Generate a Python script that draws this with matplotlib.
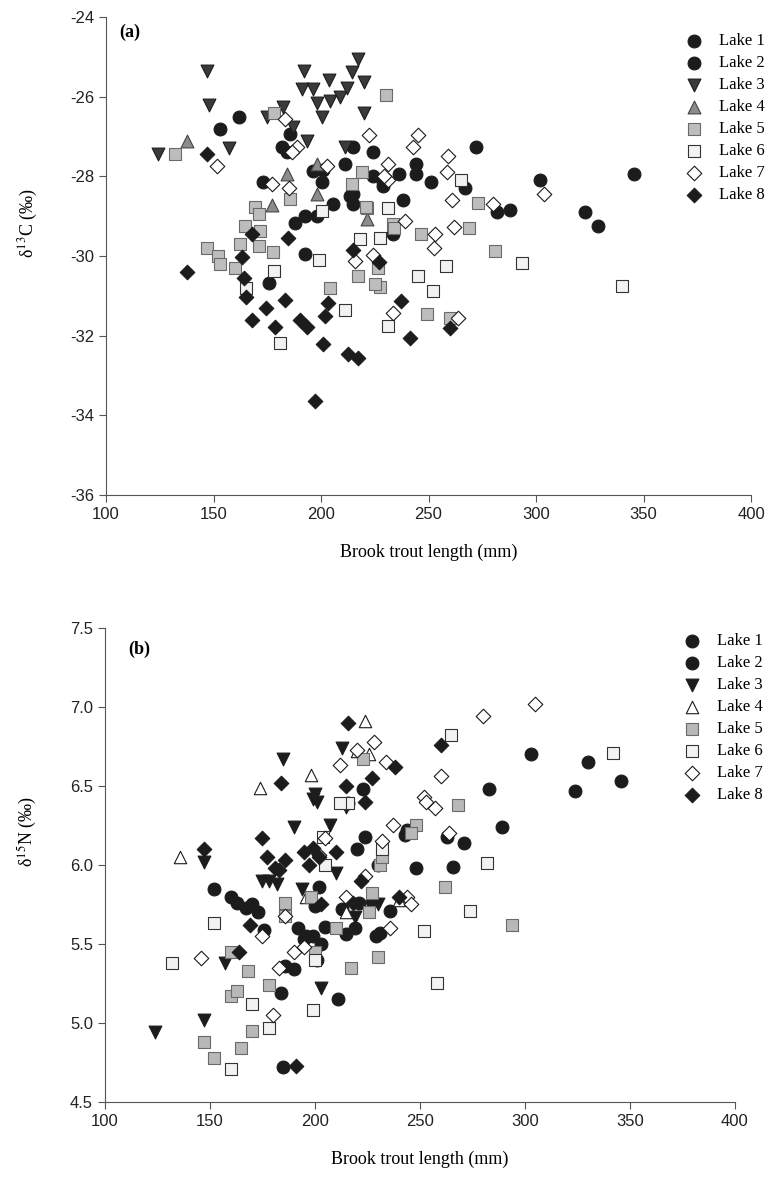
import numpy as np
import matplotlib.pyplot as plt

plt.rcParams['axes.unicode_minus'] = False
plt.rcParams['mathtext.fontset'] = 'stix'

# ---- panel (a): d13C vs length ----
a_len1 = [224, 224, 229, 233.7, 244, 244, 236.5, 251, 267, 272, 302, 345.5, 238, 323, 329, 288, 282, 229, 215, 211]
a_c1 = [-27.4, -27.98, -28.23, -29.44, -27.68, -27.93, -27.93, -28.15, -28.28, -27.27, -28.1, -27.93, -28.6, -28.9, -29.24, -28.84, -28.9, -28.15, -27.27, -27.7]
a_len2 = [162, 153, 173, 182, 185.7, 184, 196.4, 200.6, 201, 215, 215, 205.7, 192.7, 188, 192.7, 176, 213.6, 198]
a_c2 = [-26.5, -26.8, -28.15, -27.27, -26.93, -27.4, -27.87, -28.15, -27.85, -28.44, -28.7, -28.7, -28.99, -29.16, -29.95, -30.68, -28.5, -29.0]
a_len3 = [124, 147, 148, 157, 175, 182.4, 187, 193.6, 192, 191, 196.5, 203.5, 198, 200.6, 204, 209, 212, 214.5, 217, 220, 220, 211]
a_c3 = [-27.45, -25.35, -26.2, -27.3, -26.5, -26.27, -26.75, -27.1, -25.35, -25.8, -25.8, -25.57, -26.16, -26.5, -26.1, -26.0, -25.77, -25.38, -25.05, -25.63, -26.4, -27.27]
a_len4 = [137.7, 184.3, 198, 177, 198, 221.5]
a_c4 = [-27.1, -27.93, -28.43, -28.73, -27.68, -29.06]
a_len5 = [132, 230, 178, 185.7, 169.4, 171, 164.7, 171.7, 214.6, 219, 221.5, 233.7, 147, 152, 153, 160, 162.4, 171,
          177.7, 204, 217, 227.6, 225, 273, 221, 234, 246.7, 268.6, 280.7, 226.7, 249.5, 260]
a_c5 = [-27.43, -25.96, -26.42, -28.56, -28.76, -28.94, -29.24, -29.37, -28.18, -27.9, -28.79, -29.2, -29.8, -30.0, -30.2, -30.3, -29.7, -29.75,
        -29.9, -30.8, -30.5, -30.78, -30.7, -28.66, -28.78, -29.29, -29.45, -29.29, -29.87, -30.3, -31.45, -31.56]
a_len6 = [231, 200.6, 218, 227.6, 265, 258, 293.7, 245, 252, 340, 231, 199, 178, 165, 181, 211]
a_c6 = [-28.8, -28.88, -29.57, -29.54, -28.1, -30.25, -30.17, -30.5, -30.88, -30.75, -31.76, -30.1, -30.37, -30.8, -32.19, -31.36]
a_len7 = [151.6, 183.4, 177, 185, 189, 203, 222.5, 231, 231, 186.6, 245, 243, 259, 258.8, 303.5, 261, 280, 239, 253,
          252.7, 262, 224, 216, 233.7, 263.5, 229.5]
a_c7 = [-27.75, -26.57, -28.18, -28.28, -27.25, -27.73, -26.97, -27.68, -28.1, -27.4, -26.97, -27.27, -27.5, -27.9, -28.43, -28.6, -28.7, -29.13, -29.45,
        -29.8, -29.27, -29.97, -30.12, -31.43, -31.56, -27.98]
a_len8 = [147, 137.7, 184.8, 163.3, 164, 165, 168, 174.5, 183.4, 178.7, 190, 193.6, 203.4, 202, 201, 212.7, 217, 197,
          215, 227, 168, 237, 241.6, 260]
a_c8 = [-27.45, -30.4, -29.54, -30.02, -30.55, -31.03, -31.6, -31.3, -31.1, -31.78, -31.6, -31.78, -31.18, -31.5, -32.2, -32.47, -32.57, -33.65,
        -29.85, -30.15, -29.45, -31.13, -32.06, -31.8]

# ---- panel (b): d15N vs length ----
b_len1 = [346, 330, 324, 303, 289, 283, 271, 266, 263, 243, 248, 236, 231, 229, 227, 221, 230, 244, 224, 223]
b_n1 = [6.53, 6.65, 6.47, 6.70, 6.24, 6.48, 6.14, 5.99, 6.18, 6.19, 5.98, 5.71, 5.57, 5.55, 5.77, 5.76, 6.00, 6.22, 6.18, 6.48]
b_len2 = [219, 213, 211, 215, 205, 202, 200, 201, 199, 196, 192, 190, 186, 184, 185, 176, 173, 170, 167, 163, 160, 152, 220, 216, 203, 195]
b_n2 = [5.60, 5.72, 5.15, 5.56, 5.61, 5.86, 5.74, 5.40, 5.55, 5.55, 5.60, 5.34, 5.36, 5.19, 4.72, 5.59, 5.70, 5.75, 5.73, 5.76, 5.80, 5.85, 6.10, 6.39, 5.50, 5.53]
b_len3 = [124, 147, 147, 157, 175, 185, 190, 199, 201, 203, 194, 207, 215, 219, 210, 178, 213, 182, 200, 230]
b_n3 = [4.94, 5.02, 6.02, 5.38, 5.90, 6.67, 6.24, 6.42, 6.40, 5.22, 5.85, 6.25, 6.37, 5.67, 5.95, 5.90, 6.74, 5.88, 6.45, 5.75]
b_len4 = [136, 174, 198, 224, 220, 196, 215, 226, 240]
b_n4 = [6.05, 6.49, 6.57, 6.91, 6.72, 5.80, 5.70, 6.70, 5.78]
b_len5 = [147, 152, 160, 165, 168, 163, 170, 186, 186, 200, 210, 217, 226, 227, 231, 232, 230, 248, 246, 268, 262, 294, 223, 160, 178, 198]
b_n5 = [4.88, 4.78, 5.17, 4.84, 5.33, 5.20, 4.95, 5.68, 5.76, 5.45, 5.60, 5.35, 5.70, 5.82, 6.00, 6.05, 5.42, 6.25, 6.20, 6.38, 5.86, 5.62, 6.67, 5.45, 5.24, 5.80]
b_len6 = [132, 152, 160, 178, 199, 200, 205, 216, 212, 252, 258, 265, 274, 282, 342, 204, 232, 170]
b_n6 = [5.38, 5.63, 4.71, 4.97, 5.08, 5.40, 6.00, 6.39, 6.39, 5.58, 5.25, 6.82, 5.71, 6.01, 6.71, 6.18, 6.10, 5.12]
b_len7 = [146, 175, 183, 186, 190, 180, 202, 205, 212, 220, 228, 234, 237, 244, 246, 252, 253, 257, 260, 264, 280, 305, 224, 232, 236, 215, 195]
b_n7 = [5.41, 5.55, 5.35, 5.68, 5.45, 5.05, 6.06, 6.17, 6.63, 6.73, 6.78, 6.65, 6.25, 5.80, 5.75, 6.43, 6.40, 6.36, 6.56, 6.20, 6.94, 7.02, 5.93, 6.15, 5.60, 5.80, 5.48]
b_len8 = [147, 164, 169, 175, 177, 181, 184, 186, 195, 197, 202, 210, 199, 216, 227, 238, 215, 224, 191, 260, 240, 218, 203, 183, 222]
b_n8 = [6.10, 5.45, 5.62, 6.17, 6.05, 5.98, 6.52, 6.03, 6.08, 6.00, 6.05, 6.08, 6.11, 6.90, 6.55, 6.62, 6.50, 6.40, 4.73, 6.76, 5.80, 5.76, 5.75, 5.97, 5.90]

labels = ['Lake 1', 'Lake 2', 'Lake 3', 'Lake 4', 'Lake 5', 'Lake 6', 'Lake 7', 'Lake 8']

# marker, size, face, edge
style_a = [('o', 85, '#1c1c1c', '#1c1c1c'),
           ('o', 85, '#1c1c1c', '#1c1c1c'),
           ('v', 85, '#3a3a3a', '#1c1c1c'),
           ('^', 85, '#8c8c8c', '#444444'),
           ('s', 75, '#bdbdbd', '#6a6a6a'),
           ('s', 75, '#f2f2f2', '#333333'),
           ('D', 55, 'white', '#1c1c1c'),
           ('D', 55, '#1c1c1c', '#1c1c1c')]
style_b = [('o', 85, '#1c1c1c', '#1c1c1c'),
           ('o', 85, '#1c1c1c', '#1c1c1c'),
           ('v', 85, '#1c1c1c', '#1c1c1c'),
           ('^', 80, 'white', '#1c1c1c'),
           ('s', 75, '#b8b8b8', '#6a6a6a'),
           ('s', 75, '#f2f2f2', '#333333'),
           ('D', 55, 'white', '#1c1c1c'),
           ('D', 55, '#1c1c1c', '#1c1c1c')]

serif = 'Liberation Serif'
sans = 'Liberation Sans'

fig = plt.figure(figsize=(7.71, 11.84), dpi=100)
ax1 = fig.add_axes([0.1375, 0.5819, 0.8366, 0.4037])
ax2 = fig.add_axes([0.136, 0.0693, 0.817, 0.4003])


def draw(ax, xs, ys, styles):
    handles = []
    for x, y, (m, s, fc, ec) in zip(xs, ys, styles):
        h = ax.scatter(x, y, marker=m, s=s, facecolor=fc, edgecolor=ec, linewidths=0.8, zorder=3, clip_on=False)
        handles.append(h)
    for sp in ['top', 'right']:
        ax.spines[sp].set_visible(False)
    for sp in ['left', 'bottom']:
        ax.spines[sp].set_color('#555555')
        ax.spines[sp].set_linewidth(0.8)
    ax.tick_params(direction='out', length=5, width=0.8, color='#555555', labelsize=12, labelcolor='#222222')
    ax.set_xlim(100, 400)
    ax.set_xticks(np.arange(100, 401, 50))
    ax.set_xlabel('Brook trout length (mm)', fontfamily=serif, fontsize=13, labelpad=16)
    return handles


h1 = draw(ax1, [a_len1, a_len2, a_len3, a_len4, a_len5, a_len6, a_len7, a_len8],
          [a_c1, a_c2, a_c3, a_c4, a_c5, a_c6, a_c7, a_c8], style_a)
ax1.set_ylim(-36, -24)
ax1.set_yticks(np.arange(-36, -23, 2))
ax1.set_ylabel(r'δ$^{13}$C (‰)', fontfamily=serif, fontsize=13)
ax1.yaxis.set_label_coords(-0.103, 0.57)
ax1.text(0.037, 0.967, '(a)', transform=ax1.transAxes, fontfamily=serif, fontsize=13, fontweight='bold',
         ha='center', va='center')

h2 = draw(ax2, [b_len1, b_len2, b_len3, b_len4, b_len5, b_len6, b_len7, b_len8],
          [b_n1, b_n2, b_n3, b_n4, b_n5, b_n6, b_n7, b_n8], style_b)
ax2.set_ylim(4.5, 7.5)
ax2.set_yticks(np.arange(4.5, 7.51, 0.5))
ax2.set_yticklabels(['%.1f' % v for v in np.arange(4.5, 7.51, 0.5)])
ax2.set_ylabel(r'δ$^{15}$N (‰)', fontfamily=serif, fontsize=13)
ax2.yaxis.set_label_coords(-0.105, 0.57)
ax2.text(0.054, 0.955, '(b)', transform=ax2.transAxes, fontfamily=serif, fontsize=13, fontweight='bold',
         ha='center', va='center')

for ax in (ax1, ax2):
    for t in ax.get_xticklabels() + ax.get_yticklabels():
        t.set_fontfamily(sans)

for ax, h, anchor in [(ax1, h1, (686 / 771, 1 - 33 / 1184)), (ax2, h2, (684 / 771, 1 - 633 / 1184))]:
    ax.legend(h, labels, loc='upper left', bbox_to_anchor=anchor, bbox_transform=fig.transFigure,
              frameon=False, borderpad=0, borderaxespad=0, handlelength=1.0, handletextpad=1.0,
              labelspacing=0.36, scatterpoints=1, prop={'family': serif, 'size': 12})

fig.savefig('out.png', dpi=100)
